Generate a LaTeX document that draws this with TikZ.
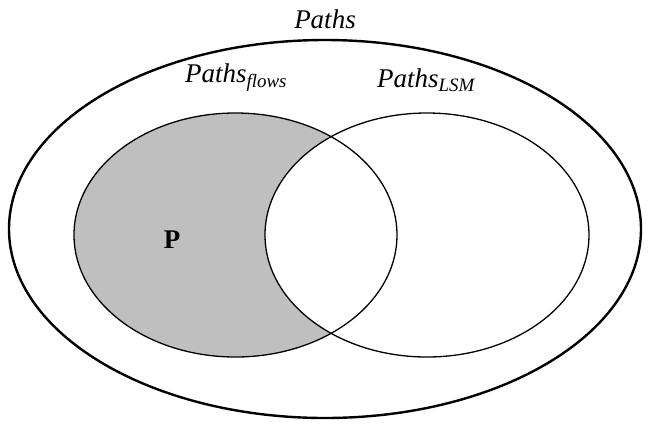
\documentclass[tikz,border=0pt]{standalone}
\usepackage{fontspec}
\setmainfont{Liberation Serif}
\usetikzlibrary{positioning}
\definecolor{setgray}{RGB}{191,191,191}
\tikzset{
    setline/.style={line width=1.3pt},
    lbl/.style={inner sep=0pt, font=\fontsize{27}{32}\selectfont\itshape}
}
\begin{document}
\begin{tikzpicture}[x=1pt,y=1pt]
    \useasboundingbox (0,0) rectangle (651,-424);
    % shaded part: flows without LSM
    \fill[setgray] (235.5,-235) ellipse (161.5 and 122);
    \fill[white] (427,-235) ellipse (162 and 122);

    \draw[line width=2.4pt] (325,-229) ellipse (316 and 189);
    \draw[setline] (235.5,-235) ellipse (161.5 and 122);
    \draw[setline] (427,-235) ellipse (162 and 122);

    \node[lbl] (all) at (325,-19) {Paths};
    \node[lbl] (flows) at (236,-78) {Paths\textsubscript{flows}};
    \node[lbl] (lsm) at (426,-80) {Paths\textsubscript{LSM}};
    \node[inner sep=0pt, font=\fontsize{27}{32}\selectfont\bfseries] (p) at (172,-240) {P};
\end{tikzpicture}
\end{document}
